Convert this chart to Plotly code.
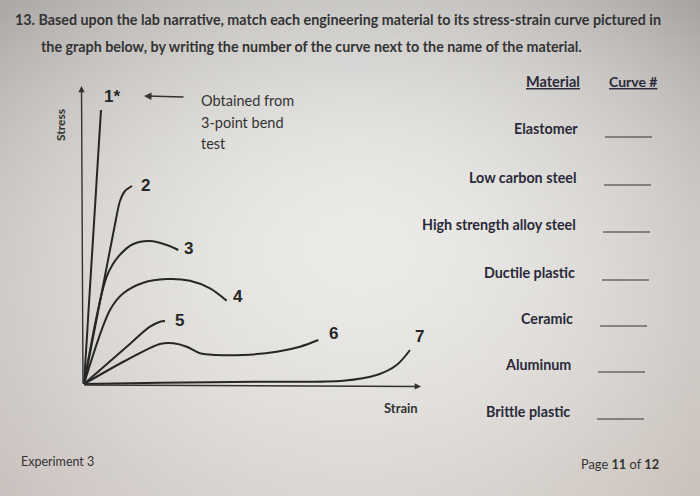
import base64
import struct
import zlib

import plotly.graph_objects as go

# ---------------- data ----------------
curve_names = ["1*", "2", "3", "4", "5", "6", "7"]

c1_strain = [0.0, 1.7]
c1_stress = [0.0, 27.4]

c2_strain = [0.0, 3.2, 3.6, 4.1, 4.8]
c2_stress = [0.0, 16.5, 18.3, 19.3, 19.8]

c3_strain = [0.0, 2.27, 3.43, 4.93, 6.6, 8.27, 9.43]
c3_stress = [0.0, 10.73, 12.73, 14.0, 14.3, 13.9, 13.4]

c4_strain = [0.0, 2.6, 3.93, 5.93, 8.27, 10.6, 12.6, 14.27]
c4_stress = [0.0, 7.4, 9.07, 10.13, 10.5, 10.33, 9.57, 8.33]

c5_strain = [0.0, 4.27, 6.6, 7.6, 8.1]
c5_stress = [0.0, 3.73, 5.73, 6.23, 6.3]

c6_strain = [0.0, 4.27, 7.6, 8.93, 10.27, 11.6, 13.27, 15.93, 19.27, 21.6, 23.43]
c6_stress = [0.0, 2.4, 4.0, 4.07, 3.73, 3.07, 2.9, 2.9, 3.23, 3.73, 4.4]

c7_strain = [0.0, 7.6, 17.6, 25.93, 29.27, 31.27, 32.6]
c7_stress = [0.0, 0.13, 0.23, 0.33, 0.9, 1.9, 3.4]

materials = ["Elastomer", "Low carbon steel", "High strength alloy steel",
             "Ductile plastic", "Ceramic", "Aluminum", "Brittle plastic"]

title_lines = [
    "13. Based upon the lab narrative, match each engineering material to its stress-strain curve pictured in",
    "the graph below, by writing the number of the curve next to the name of the material.",
]

curves = [
    (c1_strain, c1_stress),
    (c2_strain, c2_stress),
    (c3_strain, c3_stress),
    (c4_strain, c4_stress),
    (c5_strain, c5_stress),
    (c6_strain, c6_stress),
    (c7_strain, c7_stress),
]

# ---------------- background (photo vignette) ----------------
W, H = 700, 496


def bg_png(w, h):
    tl, tr = (169, 166, 164), (161, 157, 155)
    bl, br = (201, 192, 188), (199, 189, 183)
    center = (235, 234, 231)
    rows = []
    for j in range(h):
        v = j / (h - 1)
        row = bytearray([0])
        for i in range(w):
            u = i / (w - 1)
            px, py = u * W, v * H
            d = (((px - 360) / 420) ** 2 + ((py - 250) / 330) ** 2) ** 0.5
            wgt = min(1.0, (d / 1.16) ** 1.8)
            for k in range(3):
                edge = (tl[k] * (1 - u) * (1 - v) + tr[k] * u * (1 - v)
                        + bl[k] * (1 - u) * v + br[k] * u * v)
                row.append(int(round(center[k] * (1 - wgt) + edge * wgt)))
        rows.append(bytes(row))
    raw = b"".join(rows)

    def chunk(tag, data):
        c = struct.pack(">I", len(data)) + tag + data
        return c + struct.pack(">I", zlib.crc32(tag + data) & 0xFFFFFFFF)

    png = b"\x89PNG\r\n\x1a\n"
    png += chunk(b"IHDR", struct.pack(">IIBBBBB", w, h, 8, 2, 0, 0, 0))
    png += chunk(b"IDAT", zlib.compress(raw, 9))
    png += chunk(b"IEND", b"")
    return "data:image/png;base64," + base64.b64encode(png).decode()


# ---------------- figure ----------------
INK = "#262626"
FONT = "Lato, 'Open Sans', sans-serif"
NUMFONT = "'Liberation Sans', Arial, sans-serif"
TXT = 14.3


def P(px, py):
    return px / W, 1 - py / H


fig = go.Figure()
for (sx, sy), name in zip(curves, curve_names):
    fig.add_trace(go.Scatter(
        x=sx, y=sy, mode="lines", name=name,
        line=dict(color=INK, width=2, shape="spline", smoothing=0.9),
        hoverinfo="skip", showlegend=False,
    ))

ann = []

# axes as arrows
ann.append(dict(x=-0.25, y=29.8, ax=-0.1, ay=-0.1, xref="x", yref="y", axref="x", ayref="y",
                text="", showarrow=True, arrowhead=2, arrowsize=0.9, arrowwidth=1.4, arrowcolor="#333"))
ann.append(dict(x=33.7, y=-0.25, ax=-0.1, ay=-0.1, xref="x", yref="y", axref="x", ayref="y",
                text="", showarrow=True, arrowhead=2, arrowsize=0.9, arrowwidth=1.4, arrowcolor="#333"))

# curve labels near curve ends
label_offsets = [(1.1, 1.4), (1.35, 0.1), (1.05, 0.2), (1.15, 0.45), (1.4, 0.1), (1.55, 0.7), (0.9, 1.4)]
for (sx, sy), name, (dx, dy) in zip(curves, curve_names, label_offsets):
    ann.append(dict(x=sx[-1] + dx, y=sy[-1] + dy, xref="x", yref="y", text="<b>%s</b>" % name,
                    xanchor="center", yanchor="middle",
                    showarrow=False, font=dict(family=NUMFONT, size=17, color=INK)))

# arrow from note to curve 1
ann.append(dict(x=6.0, y=28.8, ax=10.1, ay=28.7, xref="x", yref="y", axref="x", ayref="y",
                text="", showarrow=True, arrowhead=2, arrowsize=1.0, arrowwidth=1.5, arrowcolor="#333"))

for txt, py in [("Obtained from", 100), ("3-point bend", 122), ("test", 144)]:
    x, y = P(199, py)
    ann.append(dict(x=x, y=y, xref="paper", yref="paper", xanchor="left", yanchor="middle",
                    text=txt, showarrow=False, font=dict(family=FONT, size=14.5, color="#333")))

x, y = P(61, 125)
ann.append(dict(x=x, y=y, xref="paper", yref="paper", text="<b>Stress</b>", textangle=-90,
                xanchor="center", yanchor="middle",
                showarrow=False, font=dict(family=FONT, size=12, color="#333")))
x, y = P(401, 408)
ann.append(dict(x=x, y=y, xref="paper", yref="paper", text="<b>Strain</b>",
                xanchor="center", yanchor="middle",
                showarrow=False, font=dict(family=FONT, size=13, color="#333")))

# title
for txt, (px, py) in zip(title_lines, [(13, 19), (39, 46)]):
    x, y = P(px, py)
    ann.append(dict(x=x, y=y, xref="paper", yref="paper", xanchor="left", yanchor="middle",
                    text="<b>%s</b>" % txt, showarrow=False, font=dict(family=FONT, size=TXT, color="#333")))

# table
x, y = P(582, 82)
ann.append(dict(x=x, y=y, xref="paper", yref="paper", xanchor="right", yanchor="middle",
                text="<b><u>Material</u></b>", showarrow=False, font=dict(family=FONT, size=14.5, color="#2a2a3a")))
x, y = P(607, 82)
ann.append(dict(x=x, y=y, xref="paper", yref="paper", xanchor="left", yanchor="middle",
                text="<b><u>Curve #</u></b>", showarrow=False, font=dict(family=FONT, size=14, color="#2a2a3a")))

row_y = [129, 177, 224, 272, 318, 364, 411]
row_right = [580, 579, 578, 577, 575, 573, 572]
shapes = []
for name, py, pr in zip(materials, row_y, row_right):
    x, y = P(pr, py)
    ann.append(dict(x=x, y=y, xref="paper", yref="paper", xanchor="right", yanchor="middle",
                    text="<b>%s</b>" % name, showarrow=False, font=dict(family=FONT, size=TXT, color="#2a2a3a")))
    lx0, ly = P(pr + 25, py + 8)
    lx1, _ = P(pr + 72, py + 8)
    shapes.append(dict(type="line", xref="paper", yref="paper", x0=lx0, x1=lx1, y0=ly, y1=ly,
                       line=dict(color="#333", width=1.2)))

# footer
x, y = P(19, 461)
ann.append(dict(x=x, y=y, xref="paper", yref="paper", xanchor="left", yanchor="middle",
                text="Experiment 3", showarrow=False, font=dict(family=FONT, size=12.5, color="#333")))
x, y = P(661, 464)
ann.append(dict(x=x, y=y, xref="paper", yref="paper", xanchor="right", yanchor="middle",
                text="Page <b>11</b> of <b>12</b>", showarrow=False, font=dict(family=FONT, size=12.8, color="#333")))

fig.update_layout(
    width=W, height=H,
    margin=dict(l=0, r=0, t=0, b=0),
    paper_bgcolor="#dcd9d5",
    plot_bgcolor="rgba(0,0,0,0)",
    xaxis=dict(range=[-8.4, 61.6], visible=False, fixedrange=True),
    yaxis=dict(range=[-11.2, 38.4], visible=False, fixedrange=True),
    annotations=ann,
    shapes=shapes,
    images=[dict(source=bg_png(140, 100), xref="paper", yref="paper", x=0, y=1,
                 sizex=1, sizey=1, sizing="stretch", layer="below", xanchor="left", yanchor="top")],
)

fig.write_html("out.html", config={"displayModeBar": False},
               post_script="document.body.style.margin='0px';")
